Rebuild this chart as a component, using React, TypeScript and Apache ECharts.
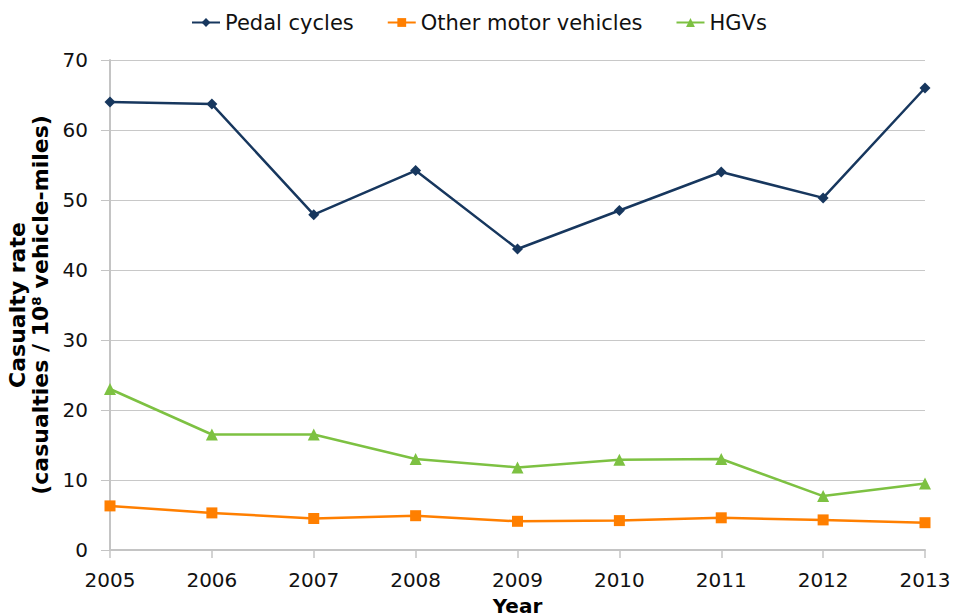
import React, { useEffect, useRef } from "react";
import * as echarts from "echarts";

const years = ["2005", "2006", "2007", "2008", "2009", "2010", "2011", "2012", "2013"];
const pedalCycles = [64.0, 63.7, 47.9, 54.2, 43.0, 48.5, 54.0, 50.3, 66.0];
const otherMotor = [6.3, 5.3, 4.5, 4.9, 4.1, 4.2, 4.6, 4.3, 3.9];
const hgvs = [23.0, 16.5, 16.5, 13.0, 11.8, 12.9, 13.0, 7.7, 9.5];
const yTitle = "Casualty rate\n(casualties / 10⁸ vehicle-miles)";
const xTitle = "Year";

const FONT = "DejaVu Sans";

export default function App() {
  const ref = useRef<HTMLDivElement>(null);
  useEffect(() => {
    const chart = echarts.init(ref.current!, null, { renderer: "svg" });
    chart.setOption({
      animation: false,
      textStyle: { fontFamily: FONT },
      legend: {
        top: 7,
        left: 186,
        itemWidth: 28,
        itemHeight: 11,
        itemGap: 33,
        textStyle: { fontSize: 21, color: "#111", fontFamily: FONT },
        data: ["Pedal cycles", "Other motor vehicles", "HGVs"],
      },
      grid: { left: 110, right: 30, top: 60, bottom: 66, containLabel: false, outerBoundsMode: "none" },
      xAxis: {
        type: "category",
        data: years,
        boundaryGap: false,
        name: xTitle,
        nameLocation: "middle",
        nameGap: 46,
        nameTextStyle: { fontSize: 20, lineHeight: 19, fontWeight: "bold", color: "#000", fontFamily: FONT },
        axisLine: { lineStyle: { color: "#c4c4c4", width: 2 } },
        axisTick: { show: true, alignWithLabel: true, length: 8, lineStyle: { color: "#c4c4c4", width: 1.5 } },
        axisLabel: { fontSize: 20, color: "#111", margin: 20, fontFamily: FONT },
        splitLine: { show: false },
      },
      yAxis: {
        type: "value",
        min: 0,
        max: 70,
        interval: 10,
        name: yTitle,
        nameLocation: "middle",
        nameGap: 48,
        nameRotate: 90,
        nameTextStyle: { fontSize: 22, fontWeight: "bold", color: "#000", lineHeight: 23, fontFamily: FONT },
        axisLine: { show: true, lineStyle: { color: "#c4c4c4", width: 2 } },
        axisTick: { show: true, length: 9, lineStyle: { color: "#c4c4c4", width: 1 } },
        axisLabel: { fontSize: 20, color: "#111", margin: 22, fontFamily: FONT },
        splitLine: { lineStyle: { color: "#c8c8c8", width: 1 } },
      },
      series: [
        {
          name: "Pedal cycles",
          type: "line",
          data: pedalCycles,
          symbol: "diamond",
          symbolSize: 11,
          itemStyle: { color: "#17375e" },
          lineStyle: { color: "#17375e", width: 2.5 },
        },
        {
          name: "Other motor vehicles",
          type: "line",
          data: otherMotor,
          symbol: "rect",
          symbolSize: 11,
          itemStyle: { color: "#ff7f00" },
          lineStyle: { color: "#ff7f00", width: 2.5 },
        },
        {
          name: "HGVs",
          type: "line",
          data: hgvs,
          symbol: "triangle",
          symbolSize: 12,
          itemStyle: { color: "#7dc142" },
          lineStyle: { color: "#7dc142", width: 2.5 },
        },
      ],
    });
    return () => chart.dispose();
  }, []);
  return <div ref={ref} style={{ width: 955, height: 616, position: "absolute", left: 0, top: 0 }} />;
}
